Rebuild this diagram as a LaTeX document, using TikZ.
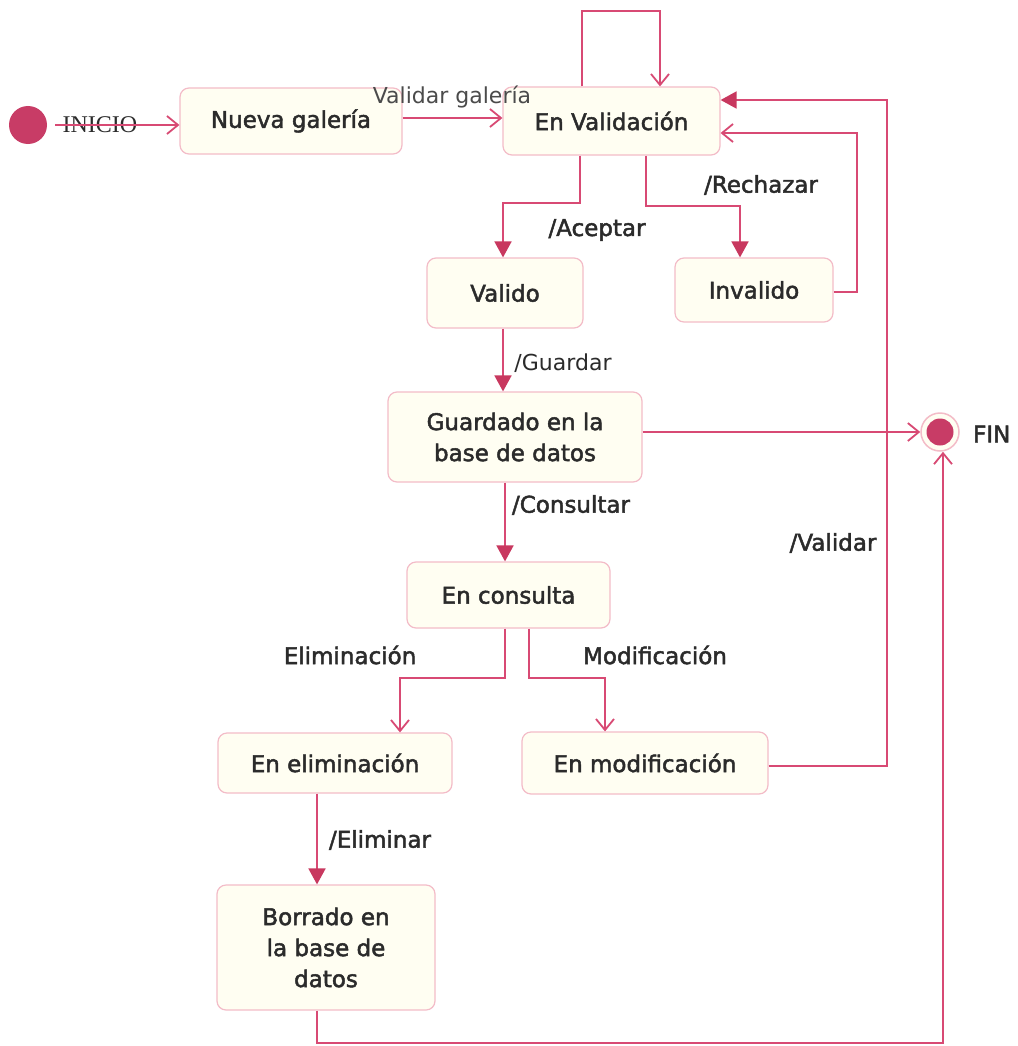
\documentclass[tikz,border=0pt]{standalone}
\usepackage{fontspec}
\setmainfont{DejaVu Sans}
\newfontfamily\statefont{DejaVu Sans}[FakeBold=2]
\newfontfamily\serifnote{Liberation Serif}
\usetikzlibrary{arrows.meta}
\definecolor{linecol}{HTML}{D84A74}
\definecolor{tipcol}{HTML}{C8385F}
\definecolor{boxfill}{HTML}{FFFEF2}
\definecolor{boxdraw}{HTML}{F3BCC8}
\definecolor{dotcol}{HTML}{C83C66}
\definecolor{txtcol}{HTML}{2B2B2B}
\tikzset{
  statebox/.style={draw=boxdraw, line width=1.2pt, fill=boxfill, rounded corners=9pt,
    inner sep=0pt, align=center, text=txtcol,
    font=\statefont\fontsize{23}{31}\selectfont},
  lbl/.style={text=txtcol, inner sep=0pt, font=\statefont\fontsize{23}{26}\selectfont},
  conn/.style={draw=linecol, line width=1.8pt},
  openarr/.style={conn, -{Straight Barb[length=11pt,width=18pt,line width=1.8pt]}},
  fillarr/.style={conn, -{Triangle[length=16pt,width=17pt,color=tipcol]}},
}
\begin{document}
\begin{tikzpicture}[x=1pt,y=-1pt]
\path[use as bounding box, fill=white] (0,0) rectangle (1017,1046);

% states
\node[circle, fill=dotcol, minimum size=38pt, inner sep=0pt] (init) at (28,125) {};
\node[text=txtcol, font=\serifnote\fontsize{24}{26}\selectfont, inner sep=0pt] (inicio) at (100,125) {INICIO};
\node[statebox, minimum width=222pt, minimum height=66pt] (nueva) at (291,121) {Nueva galería};
\node[statebox, minimum width=217pt, minimum height=68pt] (enval) at (611.5,121) {En Validación};
\node[statebox, minimum width=156pt, minimum height=70pt] (valido) at (505,293) {Valido};
\node[statebox, minimum width=158pt, minimum height=64pt] (invalido) at (754,290) {Invalido};
\node[statebox, minimum width=254pt, minimum height=90pt] (guardado) at (515,437) {Guardado en la\\base de datos};
\node[statebox, minimum width=203pt, minimum height=66pt] (consulta) at (508.5,595) {En consulta};
\node[statebox, minimum width=234pt, minimum height=60pt] (elim) at (335,763) {En eliminación};
\node[statebox, minimum width=246pt, minimum height=62pt] (modif) at (645,763) {En modificación};
\node[statebox, minimum width=218pt, minimum height=125pt] (borrado) at (326,947.5) {Borrado en\\la base de\\datos};
\node[circle, draw=boxdraw, line width=1.5pt, fill=boxfill, minimum size=38pt, inner sep=0pt] (fin) at (940,432) {};
\fill[dotcol] (fin.center) circle (13.5);
\node[lbl, anchor=west] (finlbl) at (973,434) {FIN};

% bend coordinates
\coordinate (loopA) at (582,11);
\coordinate (loopB) at (660,11);
\coordinate (acA) at (580,203);
\coordinate (acB) at (503,203);
\coordinate (reA) at (646,206);
\coordinate (reB) at (740,206);
\coordinate (invA) at (857,292);
\coordinate (invB) at (857,133);
\coordinate (moRA) at (887,766);
\coordinate (moRB) at (887,100);
\coordinate (elA) at (505,678);
\coordinate (elB) at (400,678);
\coordinate (mdA) at (529,678);
\coordinate (mdB) at (605,678);
\coordinate (boA) at (317,1043);
\coordinate (boB) at (943,1043);

% connectors
\draw[openarr, shorten <=8pt] (init.east) -- (init -| nueva.west);
\draw[openarr] ([yshift=3pt]nueva.east) -- ([yshift=3pt]enval.west);
\draw[openarr] (enval.north -| loopA) -- (loopA) -- (loopB) -- (enval.north -| loopB);
\draw[fillarr] (enval.south -| acA) -- (acA) -- (acB) -- (valido.north -| acB);
\draw[fillarr] (enval.south -| reA) -- (reA) -- (reB) -- (invalido.north -| reB);
\draw[openarr] (invalido.east |- invA) -- (invA) -- (invB) -- (enval.east |- invB);
\draw[fillarr] (valido.south -| acB) -- (guardado.north -| acB);
\draw[openarr] (guardado.east |- fin) -- (fin.west);
\draw[fillarr] (guardado.south -| elA) -- (consulta.north -| elA);
\draw[openarr] (consulta.south -| elA) -- (elA) -- (elB) -- (elim.north -| elB);
\draw[openarr] (consulta.south -| mdA) -- (mdA) -- (mdB) -- (modif.north -| mdB);
\draw[fillarr] (elim.south -| boA) -- (borrado.north -| boA);
\draw[fillarr] (modif.east |- moRA) -- (moRA) -- (moRB) -- (enval.east |- moRB);
\draw[openarr] (borrado.south -| boA) -- (boA) -- (boB) -- (fin.south -| boB);

% labels
\node[lbl, text=txtcol!85, font=\fontsize{22}{26}\selectfont] (l1) at (452,97) {Validar galería};
\node[lbl] (l2) at (597,230) {/Aceptar};
\node[lbl] (l3) at (761,185) {/Rechazar};
\node[lbl, font=\fontsize{22}{26}\selectfont] (l4) at (563,363) {/Guardar};
\node[lbl] (l5) at (571,505) {/Consultar};
\node[lbl] (l6) at (833,543) {/Validar};
\node[lbl] (l7) at (350,655) {Eliminación};
\node[lbl] (l8) at (655,655) {Modificación};
\node[lbl] (l9) at (380,840) {/Eliminar};
\end{tikzpicture}
\end{document}
